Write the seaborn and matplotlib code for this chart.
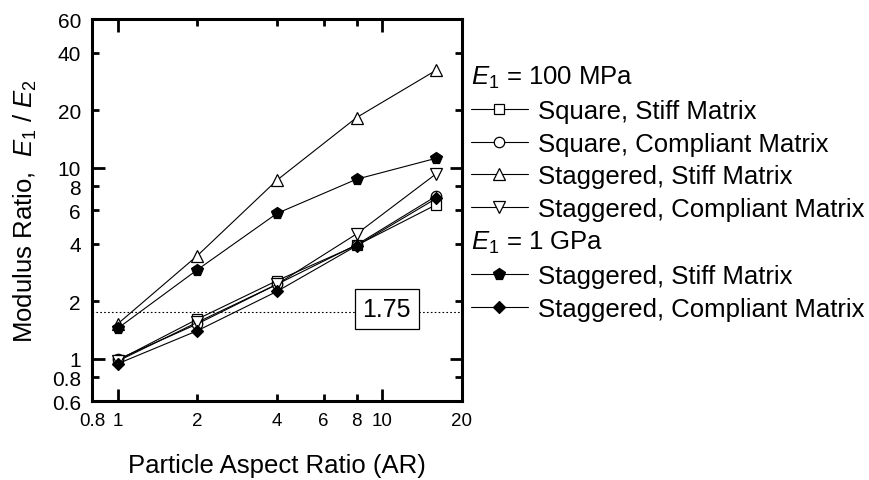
import numpy as np
import pandas as pd
import matplotlib
matplotlib.use("Agg")
import matplotlib.pyplot as plt
from matplotlib.lines import Line2D
from matplotlib.ticker import FixedLocator, FixedFormatter
import seaborn as sns

# ---- data ----
aspect_ratio = [1, 2, 4, 8, 16]
sq_stiff_100 = [0.98, 1.61, 2.56, 3.92, 6.4]
sq_comp_100 = [0.99, 1.52, 2.45, 3.95, 7.1]
st_stiff_100 = [1.52, 3.46, 8.6, 18.3, 32.4]
st_comp_100 = [0.97, 1.55, 2.45, 4.5, 9.3]
st_stiff_1g = [1.44, 2.92, 5.76, 8.7, 11.2]
st_comp_1g = [0.94, 1.40, 2.25, 3.9, 6.9]
threshold = 1.75

x_ticks = [0.8, 1, 2, 4, 6, 8, 10, 20]
y_ticks = [0.6, 0.8, 1, 2, 4, 6, 8, 10, 20, 40, 60]

series = [
    ("Square, Stiff Matrix", sq_stiff_100, "s", "white", 6.5),
    ("Square, Compliant Matrix", sq_comp_100, "o", "white", 7.5),
    ("Staggered, Stiff Matrix", st_stiff_100, "^", "white", 9),
    ("Staggered, Compliant Matrix", st_comp_100, "v", "white", 9),
    ("Staggered, Stiff Matrix", st_stiff_1g, "p", "black", 8.5),
    ("Staggered, Compliant Matrix", st_comp_1g, "D", "black", 6.5),
]

sns.set_theme(style="ticks")
plt.rcParams['font.family'] = ['Liberation Sans', 'DejaVu Sans']
plt.rcParams['mathtext.fontset'] = 'custom'
plt.rcParams['mathtext.rm'] = 'Liberation Sans'
plt.rcParams['mathtext.it'] = 'Liberation Sans:italic'
plt.rcParams['text.color'] = 'black'
plt.rcParams['axes.labelcolor'] = 'black'

fig = plt.figure(figsize=(8.69, 4.81), dpi=100)
ax = fig.add_axes([0.1059, 0.1642, 0.4257, 0.7942])

handles = []
for label, vals, mk, fc, ms in series:
    df = pd.DataFrame({"AR": aspect_ratio, "val": vals})
    sns.lineplot(data=df, x="AR", y="val", ax=ax, color="black", lw=0.8,
                 marker=mk, markersize=ms, markerfacecolor=fc,
                 markeredgecolor="black", markeredgewidth=0.9, legend=False)
    handles.append(Line2D([], [], color="black", lw=0.8, marker=mk,
                          markersize=ms, markerfacecolor=fc,
                          markeredgecolor="black", markeredgewidth=0.9))

ax.axhline(threshold, color="black", lw=0.8, ls=(0, (1.5, 2)), zorder=1)
ax.text(10.4, 1.82, f"{threshold:.2f}", fontsize=18, ha="center", va="center",
        bbox=dict(boxstyle="square,pad=0.32", fc="white", ec="black", lw=0.9),
        zorder=5)

ax.set_xscale("log")
ax.set_yscale("log")
ax.set_xlim(0.8, 20)
ax.set_ylim(0.6, 60)

ax.xaxis.set_major_locator(FixedLocator([1, 10]))
ax.xaxis.set_major_formatter(FixedFormatter(["1", "10"]))
ax.xaxis.set_minor_locator(FixedLocator([t for t in x_ticks if t not in (1, 10)]))
ax.xaxis.set_minor_formatter(FixedFormatter([f"{t:g}" for t in x_ticks if t not in (1, 10)]))
ax.yaxis.set_major_locator(FixedLocator([1, 10]))
ax.yaxis.set_major_formatter(FixedFormatter(["1", "10"]))
ax.yaxis.set_minor_locator(FixedLocator([t for t in y_ticks if t not in (1, 10)]))
ax.yaxis.set_minor_formatter(FixedFormatter([f"{t:g}" for t in y_ticks if t not in (1, 10)]))

ax.tick_params(which="both", direction="in", top=True, right=True,
               width=2, color="black", labelcolor="black")
ax.tick_params(axis="x", which="both", labelsize=13.5, pad=8)
ax.tick_params(axis="y", which="both", labelsize=15, pad=8)
ax.tick_params(which="major", length=9)
ax.tick_params(which="minor", length=5)
for sp in ax.spines.values():
    sp.set_linewidth(2.2)
    sp.set_color("black")
    sp.set_visible(True)

ax.set_xlabel("Particle Aspect Ratio (AR)", fontsize=18.5, labelpad=17)
ax.set_ylabel(r"Modulus Ratio,  $\mathit{E}_{1}$ / $\mathit{E}_{2}$", fontsize=18.5,
              labelpad=9)

labels = [s[0] for s in series]
leg_kw = dict(frameon=False, fontsize=18.5, title_fontsize=18.5, handlelength=2.2,
              handletextpad=0.4, labelspacing=0.34, borderpad=0, borderaxespad=0,
              alignment="left", loc="upper left")
leg1 = fig.legend(handles[:4], labels[:4], title=r"$\mathit{E}_{1}$ = 100 MPa",
                  bbox_to_anchor=(471 / 869, 1 - 65 / 481), **leg_kw)
leg2 = fig.legend(handles[4:], labels[4:], title=r"$\mathit{E}_{1}$ = 1 GPa",
                  bbox_to_anchor=(471 / 869, 1 - 230 / 481), **leg_kw)

fig.savefig("out.png", dpi=100)
